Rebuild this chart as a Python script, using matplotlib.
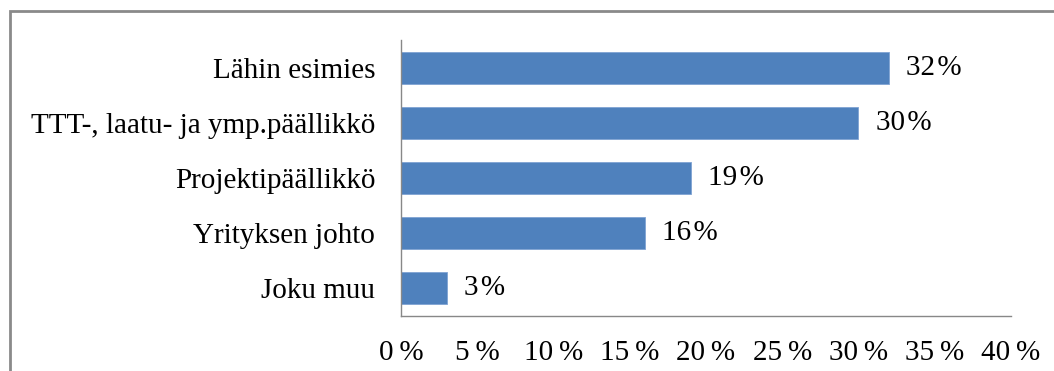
import matplotlib
matplotlib.use("Agg")
import matplotlib.pyplot as plt
from matplotlib.patches import Rectangle

categories = ["Lähin esimies", "TTT-, laatu- ja ymp.päällikkö", "Projektipäällikkö",
              "Yrityksen johto", "Joku muu"]
values = [32, 30, 19, 16, 3]
xticks = [0, 5, 10, 15, 20, 25, 30, 35, 40]

plt.rcParams["font.family"] = ["Liberation Serif", "DejaVu Serif"]
FS = 21

fig = plt.figure(figsize=(10.54, 3.71), dpi=100)
ax = fig.add_axes([0.3805, 0.148, 0.5785, 0.744])

ypos = list(range(len(categories)))[::-1]
ax.barh(ypos, values, height=0.58, color="#4F81BD", edgecolor="#7FA3D3", linewidth=0.6)
for y, v in zip(ypos, values):
    ax.text(v + 1.15, y, f"{v}\u200a%", va="center", ha="left", fontsize=FS)

ax.set_xlim(0, 40)
ax.set_ylim(-0.5, len(categories) - 0.5)
ax.set_yticks(ypos)
ax.set_yticklabels(categories, fontsize=FS)
ax.set_xticks(xticks)
ax.set_xticklabels([f"{t}\u2009%" for t in xticks], fontsize=FS)
ax.tick_params(length=0)
ax.tick_params(axis="y", pad=18.5)
ax.tick_params(axis="x", pad=17)
for s in ("top", "right"):
    ax.spines[s].set_visible(False)
for s in ("left", "bottom"):
    ax.spines[s].set_color("#888888")
    ax.spines[s].set_linewidth(1)

# outer chart frame, cut off at right and bottom
fig.add_artist(Rectangle((10 / 1054, -0.2), 1.2, 1.2 - 11 / 371,
                         transform=fig.transFigure, fill=False,
                         edgecolor="#8a8a8a", linewidth=2))

fig.savefig("out.png", dpi=100)
